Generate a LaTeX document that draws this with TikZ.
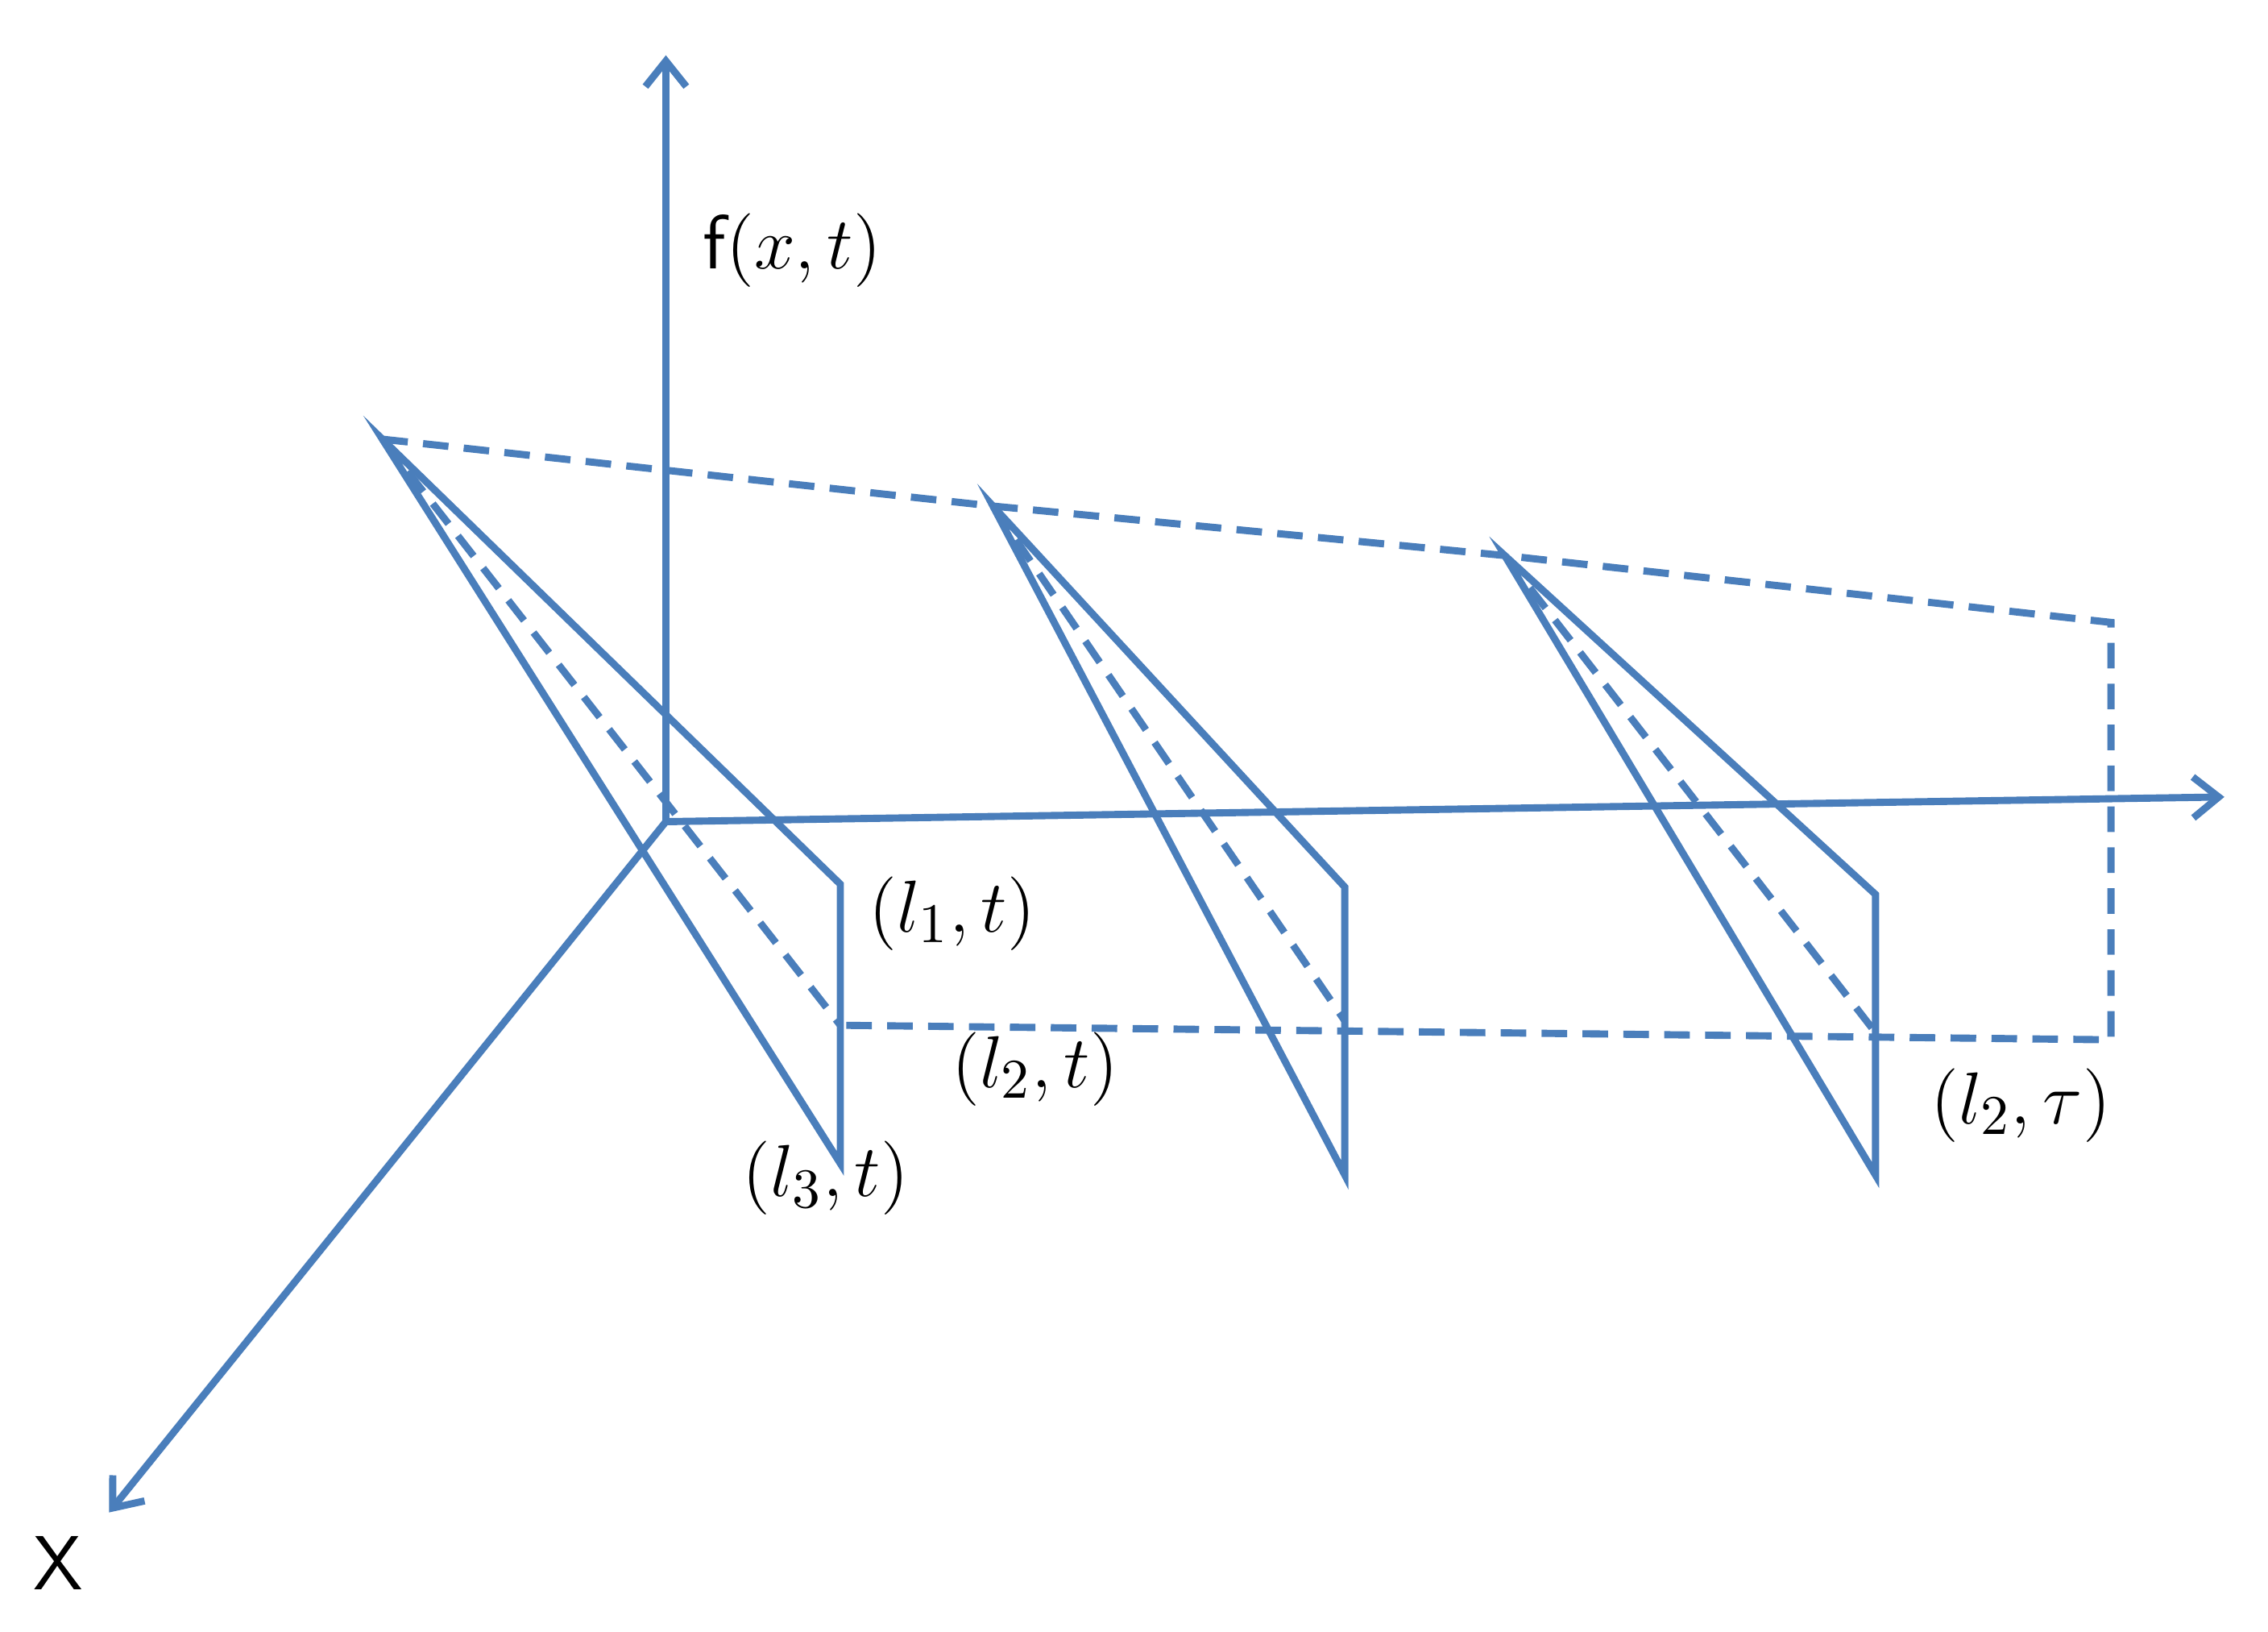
\documentclass[tikz,border=0pt]{standalone}
\usetikzlibrary{arrows.meta}
\definecolor{ax}{RGB}{74,126,187}
\begin{document}
\begin{tikzpicture}[x=0.01cm,y=-0.01cm,
  ln/.style={draw=ax,line width=1.4pt},
  dsh/.style={ln,dash pattern=on 5pt off 3pt},
  arr/.style={ln,-{Straight Barb[length=5pt,width=8pt]}},
  lab/.style={font=\fontsize{15}{17}\selectfont,inner sep=0pt}]
\useasboundingbox (0,0) rectangle (1560,1122);
\coordinate (O) at (458,565);
\coordinate (Z) at (458,38);
\coordinate (T) at (1530,548);
\coordinate (X) at (75,1040);
\draw[arr] (O) -- (Z);
\draw[arr] (O) -- (T);
\draw[arr] (O) -- (X);
\node[lab] (xl) at (40,1075) {\fontsize{15}{17}\selectfont\sffamily X};
\node[lab] (fl) at (545,172) {\sffamily f$(x,t)$};
% triangles
\coordinate (A1) at (263,302); \coordinate (T1) at (578,608); \coordinate (B1) at (578,800); \coordinate (M1) at (578,705);
\coordinate (A2) at (683,348); \coordinate (T2) at (925,610); \coordinate (B2) at (925,808); \coordinate (M2) at (925,702);
\coordinate (A3) at (1035,382); \coordinate (T3) at (1290,615); \coordinate (B3) at (1290,808); \coordinate (M3) at (1290,710);
\coordinate (R1) at (1452,428); \coordinate (R2) at (1452,715);
\foreach \i in {1,2,3}{
  \draw[ln] (A\i) -- (T\i) -- (B\i) -- cycle;
  \draw[dsh] (A\i) -- (M\i);
}
\draw[dsh] (A1) -- (A2) -- (A3) -- (R1) -- (R2) -- (M1);
\node[lab] (l1) at (655,628) {$(l_1,t)$};
\node[lab] (l2) at (712,735) {$(l_2,t)$};
\node[lab] (l3) at (568,810) {$(l_3,t)$};
\node[lab] (l4) at (1390,760) {$(l_2,\tau)$};
\end{tikzpicture}
\end{document}
